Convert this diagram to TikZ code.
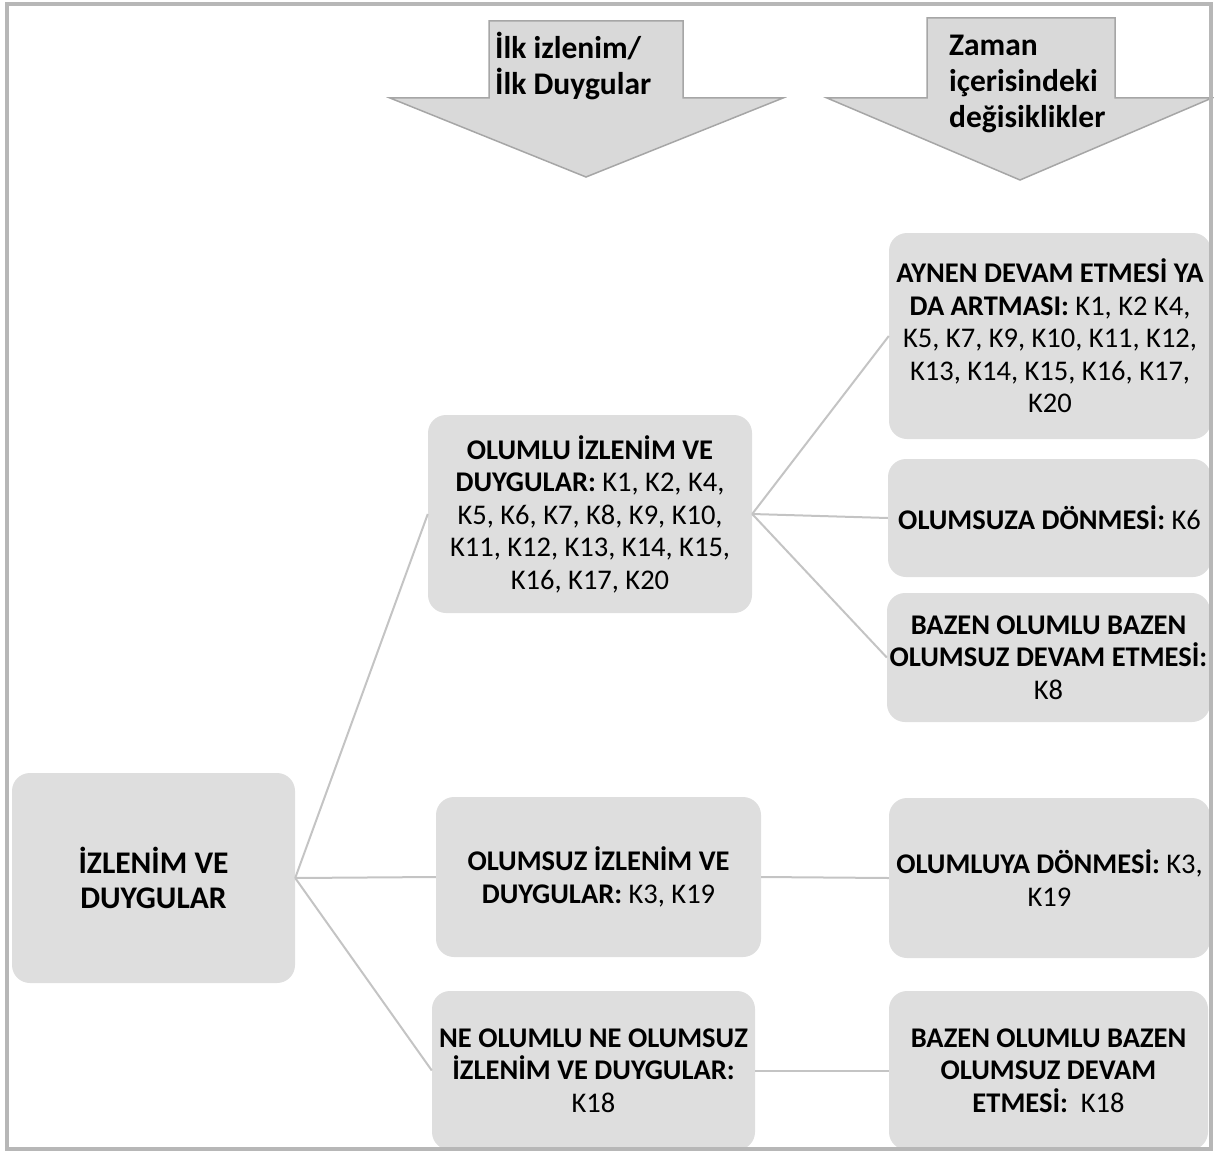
\documentclass[tikz,border=0pt]{standalone}
\usepackage{fontspec}
\setmainfont{Carlito}
\usepackage{tikz}
\usetikzlibrary{positioning,calc}
\definecolor{boxgray}{HTML}{DEDEDE}
\definecolor{arrowfill}{HTML}{D9D9D9}
\definecolor{arrowline}{HTML}{A6A6A6}
\definecolor{linkgray}{HTML}{C4C4C4}
\definecolor{framegray}{HTML}{B7B7B7}

\begin{document}
\begin{tikzpicture}[x=1pt,y=-1pt,
    box/.style={fill=boxgray, rounded corners=18pt, align=center, inner sep=0pt,
        font=\fontsize{28.5}{32.5}\selectfont},
    link/.style={draw=linkgray, line width=2pt},
    downarrow/.style={fill=arrowfill, draw=arrowline, line width=1.5pt},
    headtext/.style={anchor=base west, align=left, inner sep=0pt,
        font=\fontsize{31.5}{36}\selectfont\bfseries}]
    \useasboundingbox (0,0) rectangle (1214,1153);

    % Header arrows
    \foreach \sl/\sr/\hl/\hr/\tx/\ty/\yt in {489/683/390/783/586/177/21, 927/1115/827/1212/1020/180/18}
        \draw[downarrow] (\sl,\yt) -- (\sr,\yt) -- (\sr,98) -- (\hr,98) -- (\tx,\ty)
            -- (\hl,98) -- (\sl,98) -- cycle;
    \node[headtext] (first) at (495,95) {İlk izlenim/\\İlk Duygular};
    \node[headtext] (change) at (949,128) {Zaman\\içerisindeki\\değisiklikler};

    % Boxes
    \node[box, minimum width=283, minimum height=210, font=\fontsize{31.5}{35}\selectfont\bfseries]
        (root) at (153.5,878) {İZLENİM VE\\DUYGULAR};
    \node[box, minimum width=324, minimum height=198] (pos) at (590,514)
        {\textbf{OLUMLU İZLENİM VE}\\\textbf{DUYGULAR:} K1, K2, K4,\\K5, K6, K7, K8, K9, K10,\\K11, K12, K13, K14, K15,\\K16, K17, K20};
    \node[box, minimum width=325, minimum height=160] (neg) at (598.5,877)
        {\textbf{OLUMSUZ İZLENİM VE}\\\textbf{DUYGULAR:} K3, K19};
    \node[box, minimum width=323, minimum height=159] (neu) at (593.5,1070.5)
        {\textbf{NE OLUMLU NE OLUMSUZ}\\\textbf{İZLENİM VE DUYGULAR:}\\K18};
    \node[box, minimum width=322, minimum height=206] (same) at (1050,336)
        {\textbf{AYNEN DEVAM ETMESİ YA}\\\textbf{DA ARTMASI:} K1, K2 K4,\\K5, K7, K9, K10, K11, K12,\\K13, K14, K15, K16, K17,\\K20};
    \node[box, minimum width=323, minimum height=118] (toneg) at (1049.5,518)
        {\textbf{OLUMSUZA DÖNMESİ:} K6};
    \node[box, minimum width=323, minimum height=129] (mixpos) at (1048.5,657.5)
        {\textbf{BAZEN OLUMLU BAZEN}\\\textbf{OLUMSUZ DEVAM ETMESİ:}\\K8};
    \node[box, minimum width=321, minimum height=160] (topos) at (1049.5,878)
        {\textbf{OLUMLUYA DÖNMESİ:} K3,\\K19};
    \node[box, minimum width=319, minimum height=159] (mixneu) at (1048.5,1070.5)
        {\textbf{BAZEN OLUMLU BAZEN}\\\textbf{OLUMSUZ DEVAM}\\\textbf{ETMESİ:}\ \ K18};

    % Connectors
    \foreach \a/\b in {root/pos, root/neg, root/neu, pos/same, pos/toneg, pos/mixpos, neg/topos, neu/mixneu}
        \draw[link] (\a.east) -- (\b.west);

    % Frame
    \draw[framegray, line width=3.5pt] (7,4) rectangle (1211,1149);
\end{tikzpicture}
\end{document}
